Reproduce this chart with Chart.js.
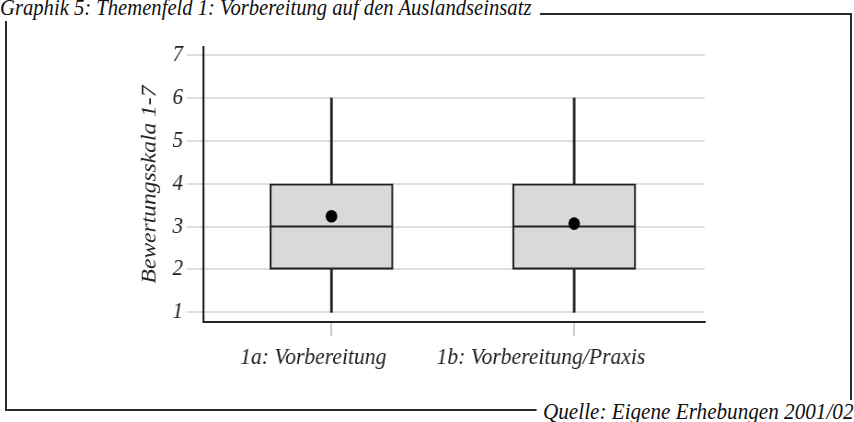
<!DOCTYPE html>
<html>
<head>
<meta charset="utf-8">
<script src="https://cdn.jsdelivr.net/npm/chart.js@4.4.0/dist/chart.umd.min.js"></script>
<style>
  html, body { margin: 0; padding: 0; background: #fff; }
  #wrap {
    position: relative; width: 854px; height: 422px; overflow: hidden;
    font-family: "Liberation Serif", "Times New Roman", serif; font-style: italic; color: #111;
  }
  #frame { position: absolute; left: 5px; top: 13px; width: 843px; height: 394px; border: 2px solid #2a2a2a; }
  /* the source picture is squeezed sideways a little, so the text is too */
  #title {
    position: absolute; left: 0; top: -6px; font-size: 24px; line-height: 27px;
    background: #fff; padding-right: 10px; white-space: nowrap;
    transform: scaleX(0.86); transform-origin: 0 0;
  }
  #source {
    position: absolute; right: 1px; top: 400px; font-size: 23px; line-height: 24px;
    background: #fff; padding-left: 7px; white-space: nowrap;
    transform: scaleX(0.92); transform-origin: 100% 0;
  }
  #chart { position: absolute; left: 0; top: 0; width: 928px; height: 422px; transform: scaleX(0.92); transform-origin: 0 0; }
</style>
</head>
<body>
<div id="wrap">
  <div id="frame"></div>
  <div id="title">Graphik 5: Themenfeld 1: Vorbereitung auf den Auslandseinsatz</div>
  <div id="source">Quelle: Eigene Erhebungen 2001/02</div>
  <div id="chart"><canvas id="c" width="928" height="422"></canvas></div>
</div>
<script>
// categories and box statistics
const categories = ["1a: Vorbereitung", "1b: Vorbereitung/Praxis"]
const catPos = [1, 2]
const labelPos = [0.925, 1.863]   // the labels sit a bit left of their ticks
const whiskerLow = [1, 1]
const q1 = [2, 2]
const median = [3, 3]
const q3 = [4, 4]
const whiskerHigh = [6, 6]
const means = [3.24, 3.07]
const yTicks = [1, 2, 3, 4, 5, 6, 7]

const ink = "#222222"
const family = "'Liberation Serif', 'Times New Roman', serif"
const tickFont = { family: family, style: "italic", size: 23 }
const labelFont = { family: family, style: "italic", size: 23.5 }
const titleFont = { family: family, style: "italic", size: 23.5 }

const pts = (vals) => catPos.map((x, i) => ({ x: x, y: vals[i] }))
const ranges = (lo, hi) => catPos.map((x, i) => ({ x: x, y: [lo[i], hi[i]] }))

new Chart(document.getElementById("c"), {
  type: "bar",
  data: {
    datasets: [
      {
        // lower whiskers
        data: ranges(whiskerLow, q1),
        backgroundColor: ink,
        borderWidth: 0,
        barThickness: 2.2,
        grouped: false,
        order: 5,
      },
      {
        // upper whiskers
        data: ranges(q3, whiskerHigh),
        backgroundColor: ink,
        borderWidth: 0,
        barThickness: 2.2,
        grouped: false,
        order: 5,
      },
      {
        // boxes q1..q3
        data: ranges(q1, q3),
        backgroundColor: "#d9d9d9",
        borderColor: ink,
        borderWidth: 2.2,
        borderSkipped: false,
        barThickness: 134,
        grouped: false,
        order: 4,
      },
      {
        // median lines
        type: "scatter",
        data: pts(median),
        pointStyle: "line",
        pointRadius: 66,
        borderColor: ink,
        borderWidth: 2,
        order: 2,
      },
      {
        // means
        type: "scatter",
        data: pts(means),
        pointStyle: "circle",
        pointRadius: 6.3,
        backgroundColor: "#000",
        borderColor: "#000",
        borderWidth: 0,
        order: 1,
      },
    ],
  },
  options: {
    responsive: false,
    animation: false,
    events: [],
    layout: { autoPadding: false, padding: { left: 144, right: 162, top: 47, bottom: 46 } },
    plugins: { legend: { display: false }, tooltip: { enabled: false } },
    scales: {
      x: {
        type: "linear",
        position: "bottom",
        weight: 0,
        offset: false,
        min: 0.472,
        max: 2.538,
        afterBuildTicks: (s) => { s.ticks = catPos.map((v) => ({ value: v })) },
        afterFit: (s) => { s.height = 14 },
        ticks: { display: false },
        grid: { drawOnChartArea: false, offset: false, color: "#c8c8c8", lineWidth: 2, tickLength: 14 },
        border: { display: true, color: ink, width: 2 },
      },
      xl: {
        type: "linear",
        position: "bottom",
        weight: 1,
        offset: false,
        min: 0.472,
        max: 2.538,
        afterBuildTicks: (s) => { s.ticks = labelPos.map((v) => ({ value: v })) },
        afterFit: (s) => { s.height = 40 },
        ticks: {
          font: labelFont,
          color: ink,
          padding: 8,
          maxRotation: 0,
          autoSkip: false,
          callback: (v, i) => categories[i],
        },
        grid: { display: false, drawTicks: false, offset: false },
        border: { display: false },
      },
      y: {
        min: 0.774,
        max: 7.19,
        afterBuildTicks: (s) => { s.ticks = yTicks.map((v) => ({ value: v })) },
        afterFit: (s) => { s.width = 77 },
        ticks: { font: tickFont, color: ink, padding: 4 },
        grid: { color: "#dedede", lineWidth: 2, tickLength: 18 },
        border: { display: true, color: ink, width: 2.2 },
        title: {
          display: true,
          text: "Bewertungsskala 1-7",
          font: titleFont,
          color: ink,
          padding: { top: 5, bottom: 0 },
        },
      },
    },
  },
})
</script>
</body>
</html>
